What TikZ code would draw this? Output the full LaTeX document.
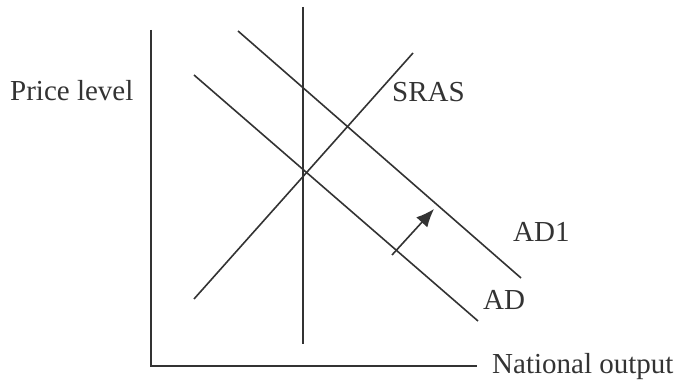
\documentclass[tikz,border=0pt]{standalone}
\usepackage{fontspec}
\setmainfont{Liberation Serif}
\usetikzlibrary{arrows.meta}
\definecolor{ink}{HTML}{333333}
\begin{document}
\begin{tikzpicture}[x=1pt,y=-1pt,font=\fontsize{29}{33}\selectfont,
 >={Latex[length=18pt,width=15pt]},
 curve/.style={ink,line width=1.6pt},
 axis/.style={ink,line width=1.4pt},
 lbl/.style={ink,inner sep=0pt,anchor=base west}]
\path[use as bounding box] (0,0) rectangle (674,387);
% axes
\coordinate (O) at (151,366);
\coordinate (Ytop) at (151,30);
\coordinate (Xend) at (477,366);
\draw[axis] (Ytop)--(O)--(Xend);
% vertical line
\coordinate (Vtop) at (303,7);
\coordinate (Vbot) at (303,344);
\draw[axis] (Vtop)--(Vbot);
% curves
\coordinate (SRASlo) at (194,299);
\coordinate (SRAShi) at (413,53);
\coordinate (ADhi) at (194,75);
\coordinate (ADlo) at (478,321);
\coordinate (ADonehi) at (238,31);
\coordinate (ADonelo) at (521,278);
\draw[curve] (SRASlo)--(SRAShi);
\draw[curve] (ADhi)--(ADlo);
\draw[curve] (ADonehi)--(ADonelo);
% shift
\coordinate (S0) at (392,255);
\coordinate (S1) at (434,209);
\draw[->,curve] (S0)--(S1);
% labels
\node[lbl] (price) at (10,101) {Price level};
\node[lbl] (output) at (492,373) {National output};
\node[lbl] (sras) at (392,102) {SRAS};
\node[lbl] (adone) at (513,241) {AD1};
\node[lbl] (ad) at (483,309) {AD};
\end{tikzpicture}
\end{document}
